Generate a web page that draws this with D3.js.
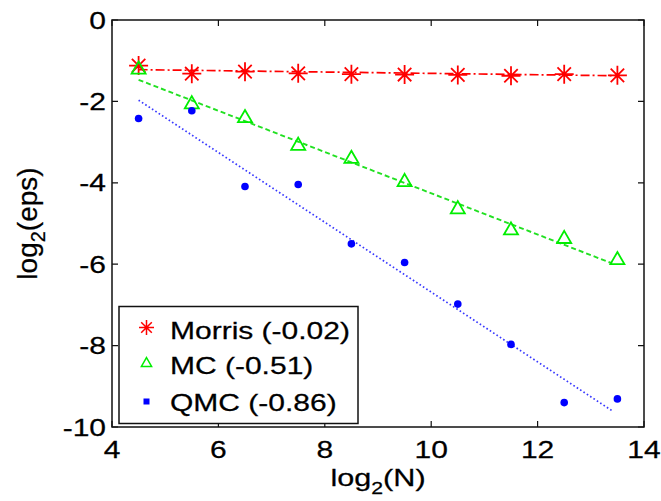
<!DOCTYPE html>
<html>
<head>
<meta charset="utf-8">
<script src="https://cdn.jsdelivr.net/npm/d3@7"></script>
<style>
  body { margin: 0; background: #fff; }
  text { font-family: "Liberation Sans", Arial, sans-serif; fill: #000; stroke: #000; stroke-width: 0.25px; }
</style>
</head>
<body>
<div id="chart"></div>
<script>
// values
const log2N = [4.5, 5.5, 6.5, 7.5, 8.5, 9.5, 10.5, 11.5, 12.5, 13.5]
const morris = [-1.12, -1.32, -1.27, -1.31, -1.33, -1.34, -1.35, -1.37, -1.33, -1.36]
const mc = [-1.22, -2.07, -2.41, -3.09, -3.41, -3.98, -4.65, -5.17, -5.38, -5.9]
const qmc = [-2.42, -2.23, -4.09, -4.04, -5.5, -5.96, -6.98, -7.97, -9.4, -9.31]

// fitted lines, [x, y] end points
const morrisFit = [[4.5, -1.22], [13.5, -1.37]]
const mcFit = [[4.5, -1.47], [13.4, -5.98]]
const qmcFit = [[4.5, -1.97], [13.4, -9.6]]

const legendLabels = ["Morris (-0.02)", "MC (-0.51)", "QMC (-0.86)"]
const xTicks = [4, 6, 8, 10, 12, 14]
const yTicks = [0, -2, -4, -6, -8, -10]

const width = 661, height = 501
const margin = { top: 20, right: 17, bottom: 74, left: 112 }
const sx = 1.25   // the fonts in the picture are stretched sideways

const svg = d3.select("#chart")
    .append("svg")
    .attr("width", width)
    .attr("height", height)

const x = d3.scaleLinear()
    .domain([4, 14])
    .range([margin.left, width - margin.right])

const y = d3.scaleLinear()
    .domain([-10, 0])
    .range([height - margin.bottom, margin.top])

const red = "#ff0000", green = "#00ee00", blue = "#0000ff"

// asterisk marker: + and x together
function star(r) {
    const d = r * Math.SQRT1_2
    return `M${-r},0L${r},0M0,${-r}L0,${r}M${-d},${-d}L${d},${d}M${-d},${d}L${d},${-d}`
}

const line = d3.line()
    .x(d => x(d[0]))
    .y(d => y(d[1]))

// fit lines
svg.append("path")
    .attr("d", line(morrisFit))
    .attr("fill", "none")
    .attr("stroke", red)
    .attr("stroke-width", 1.7)
    .attr("stroke-dasharray", "9,3,2,3")

svg.append("path")
    .attr("d", line(mcFit))
    .attr("fill", "none")
    .attr("stroke", "#22e022")
    .attr("stroke-width", 1.9)
    .attr("stroke-dasharray", "5,3")

svg.append("path")
    .attr("d", line(qmcFit))
    .attr("fill", "none")
    .attr("stroke", "#3838ff")
    .attr("stroke-width", 1.7)
    .attr("stroke-dasharray", "1.6,2.4")

// markers
svg.append("g")
    .selectAll("path")
    .data(log2N)
    .join("path")
    .attr("transform", (d, i) => `translate(${x(d)},${y(morris[i])})`)
    .attr("d", star(9.5))
    .attr("stroke", red)
    .attr("stroke-width", 1.8)

svg.append("g")
    .selectAll("path")
    .data(log2N)
    .join("path")
    .attr("transform", (d, i) => `translate(${x(d)},${y(mc[i])})`)
    .attr("d", d3.symbol(d3.symbolTriangle, 85))
    .attr("fill", "none")
    .attr("stroke", green)
    .attr("stroke-width", 1.8)

svg.append("g")
    .selectAll("circle")
    .data(log2N)
    .join("circle")
    .attr("cx", d => x(d))
    .attr("cy", (d, i) => y(qmc[i]))
    .attr("r", 3.8)
    .attr("fill", blue)

// axes box
svg.append("rect")
    .attr("x", x(4))
    .attr("y", y(0))
    .attr("width", x(14) - x(4))
    .attr("height", y(-10) - y(0))
    .attr("fill", "none")
    .attr("stroke", "#111")
    .attr("stroke-width", 1.5)

const tickLen = 6

svg.append("g")
    .selectAll("path")
    .data(xTicks)
    .join("path")
    .attr("d", d => `M${x(d)},${y(-10)}v${-tickLen}M${x(d)},${y(0)}v${tickLen}`)
    .attr("stroke", "#111")
    .attr("stroke-width", 1.2)

svg.append("g")
    .selectAll("path")
    .data(yTicks)
    .join("path")
    .attr("d", d => `M${x(4)},${y(d)}h${tickLen}M${x(14)},${y(d)}h${-tickLen}`)
    .attr("stroke", "#111")
    .attr("stroke-width", 1.2)

// tick labels
svg.append("g")
    .selectAll("g")
    .data(xTicks)
    .join("g")
    .attr("transform", d => `translate(${x(d)},${y(-10) + 31}) scale(${sx},1)`)
    .append("text")
    .attr("text-anchor", "middle")
    .style("font-size", "24px")
    .text(d => d)

svg.append("g")
    .selectAll("g")
    .data(yTicks)
    .join("g")
    .attr("transform", d => `translate(${x(4) - 6},${y(d) + 8.5}) scale(${sx},1)`)
    .append("text")
    .attr("text-anchor", "end")
    .style("font-size", "24px")
    .text(d => d)

// axis titles
const xTitle = svg.append("g")
    .attr("transform", `translate(${(x(4) + x(14)) / 2},486) scale(${sx},1)`)
    .append("text")
    .attr("text-anchor", "middle")
    .style("font-size", "24.5px")
xTitle.append("tspan").text("log")
xTitle.append("tspan").attr("dy", 8).style("font-size", "17px").text("2")
xTitle.append("tspan").attr("dy", -8).text("(N)")

const yTitle = svg.append("text")
    .attr("transform", `translate(37,${(y(0) + y(-10)) / 2}) rotate(-90)`)
    .attr("text-anchor", "middle")
    .style("font-size", "28px")
yTitle.append("tspan").text("log")
yTitle.append("tspan").attr("dy", 8).style("font-size", "20px").text("2")
yTitle.append("tspan").attr("dy", -8).text("(eps)")

// legend
const legend = svg.append("g")

legend.append("rect")
    .attr("x", 119)
    .attr("y", 306.5)
    .attr("width", 239)
    .attr("height", 117)
    .attr("fill", "#fff")
    .attr("stroke", "#111")
    .attr("stroke-width", 1.5)

const rows = [338.5, 373.5, 410.5]

legend.append("path")
    .attr("transform", `translate(146.5,${rows[0] - 11})`)
    .attr("d", star(7.5))
    .attr("stroke", red)
    .attr("stroke-width", 1.5)

legend.append("path")
    .attr("transform", `translate(146.5,${rows[1] - 10})`)
    .attr("d", d3.symbol(d3.symbolTriangle, 45))
    .attr("fill", "none")
    .attr("stroke", green)
    .attr("stroke-width", 1.5)

legend.append("rect")
    .attr("x", 143.5)
    .attr("y", rows[2] - 12)
    .attr("width", 6)
    .attr("height", 6)
    .attr("fill", blue)

legend.selectAll("g.label")
    .data(legendLabels)
    .join("g")
    .attr("class", "label")
    .attr("transform", (d, i) => `translate(170,${rows[i]}) scale(${sx},1)`)
    .append("text")
    .style("font-size", "24px")
    .text(d => d)
</script>
</body>
</html>
